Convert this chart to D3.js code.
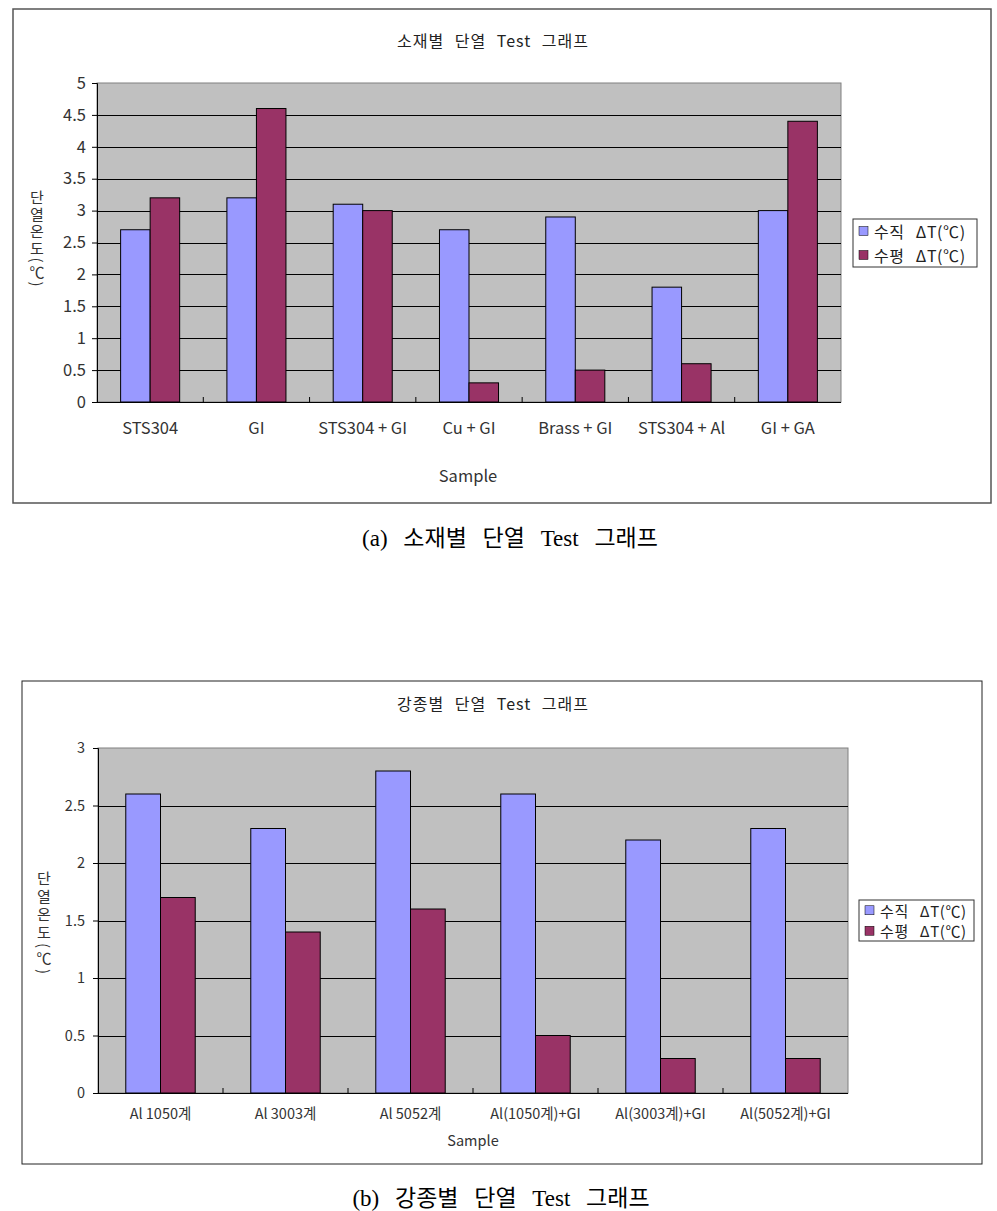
<!DOCTYPE html>
<html>
<head>
<meta charset="utf-8">
<script src="https://cdn.jsdelivr.net/npm/d3@7"></script>
<style>
  body { margin: 0; background: #fff; }
  svg text { font-family: "Noto Sans CJK KR", "DejaVu Sans", sans-serif; }
  .caption { font-family: "Liberation Serif", "Noto Sans CJK KR", serif !important; }
</style>
</head>
<body>
<svg id="page" width="997" height="1211"></svg>
<script>
// chart (a)
const samplesA = ["STS304", "GI", "STS304 + GI", "Cu + GI", "Brass + GI", "STS304 + Al", "GI + GA"];
const verticalA = [2.7, 3.2, 3.1, 2.7, 2.9, 1.8, 3.0];
const horizontalA = [3.2, 4.6, 3.0, 0.3, 0.5, 0.6, 4.4];
const yTicksA = [0, 0.5, 1, 1.5, 2, 2.5, 3, 3.5, 4, 4.5, 5];

// chart (b)
const samplesB = ["Al 1050계", "Al 3003계", "Al 5052계", "Al(1050계)+GI", "Al(3003계)+GI", "Al(5052계)+GI"];
const verticalB = [2.6, 2.3, 2.8, 2.6, 2.2, 2.3];
const horizontalB = [1.7, 1.4, 1.6, 0.5, 0.3, 0.3];
const yTicksB = [0, 0.5, 1, 1.5, 2, 2.5, 3];

const seriesNames = ["수직 ΔT(℃)", "수평 ΔT(℃)"];
const colors = ["#9999ff", "#993366"];

const svg = d3.select("#page");

function drawChart(cfg) {
    const g = svg.append("g");

    // outer frame
    g.append("rect")
        .attr("x", cfg.frame[0]).attr("y", cfg.frame[1])
        .attr("width", cfg.frame[2] - cfg.frame[0]).attr("height", cfg.frame[3] - cfg.frame[1])
        .attr("fill", "#fff").attr("stroke", cfg.frameColor).attr("stroke-width", cfg.frameWidth);

    const x0 = d3.scaleBand().domain(cfg.samples).range([cfg.left, cfg.right]).padding(0);
    const x1 = d3.scaleBand().domain([0, 1]).range([0, x0.bandwidth()]).paddingInner(0).paddingOuter(0.8);
    const y = d3.scaleLinear().domain([0, d3.max(cfg.yTicks)]).range([cfg.bottom, cfg.top]);

    // plot background
    g.append("rect")
        .attr("x", cfg.left).attr("y", cfg.top)
        .attr("width", cfg.right - cfg.left).attr("height", cfg.bottom - cfg.top)
        .attr("fill", "#c0c0c0").attr("stroke", "#808080");

    // gridlines
    g.selectAll(".grid").data(cfg.yTicks.slice(1, -1)).join("line")
        .attr("x1", cfg.left).attr("x2", cfg.right)
        .attr("y1", d => Math.round(y(d)) + 0.5).attr("y2", d => Math.round(y(d)) + 0.5)
        .attr("stroke", "#000");

    // bars
    const rows = cfg.samples.map((s, i) => ({ s, v: [cfg.vertical[i], cfg.horizontal[i]] }));
    const grp = g.selectAll(".grp").data(rows).join("g")
        .attr("transform", d => `translate(${x0(d.s)},0)`);
    grp.selectAll("rect").data(d => d.v.map((v, k) => ({ v, k }))).join("rect")
        .attr("x", d => x1(d.k))
        .attr("y", d => y(d.v))
        .attr("width", x1.bandwidth())
        .attr("height", d => y(0) - y(d.v))
        .attr("fill", d => colors[d.k])
        .attr("stroke", "#000").attr("stroke-width", 1);

    // y axis
    const yAxis = g.append("g").attr("transform", `translate(${cfg.left},0)`)
        .call(d3.axisLeft(y).tickValues(cfg.yTicks).tickSize(5).tickPadding(cfg.yPad).tickFormat(d => String(d)));
    yAxis.select(".domain").attr("stroke", "#000");
    yAxis.selectAll("text").attr("font-size", cfg.tickFont).attr("fill", "#333").attr("font-family", null);

    // x axis line and inner ticks at category boundaries
    g.append("line").attr("x1", cfg.left).attr("x2", cfg.right)
        .attr("y1", cfg.bottom + 0.5).attr("y2", cfg.bottom + 0.5).attr("stroke", "#000");
    g.selectAll(".xt").data(cfg.samples.slice(1)).join("line")
        .attr("x1", d => x0(d)).attr("x2", d => x0(d))
        .attr("y1", cfg.bottom).attr("y2", cfg.bottom - 5).attr("stroke", "#000");
    g.selectAll(".xl").data(cfg.samples).join("text")
        .attr("x", d => x0(d) + x0.bandwidth() / 2)
        .attr("y", cfg.xLabelY)
        .attr("text-anchor", "middle").attr("dominant-baseline", "central")
        .attr("font-size", cfg.xFont).attr("fill", "#333")
        .text(d => d);

    // axis titles
    g.append("text").attr("x", cfg.sampleX).attr("y", cfg.sampleY)
        .attr("text-anchor", "middle").attr("dominant-baseline", "central")
        .attr("font-size", cfg.xFont).attr("fill", "#333").text("Sample");
    g.append("text").attr("x", cfg.yLabelX).attr("y", cfg.yLabelY)
        .attr("text-anchor", "middle")
        .style("writing-mode", "vertical-rl")
        .attr("letter-spacing", cfg.yLabelSpacing)
        .attr("font-size", cfg.yLabelFont).attr("fill", "#333").text("단열온도(℃)");

    // chart title
    g.append("text").attr("x", cfg.titleX).attr("y", cfg.titleY)
        .attr("text-anchor", "middle").attr("dominant-baseline", "central")
        .attr("font-size", cfg.titleFont).attr("fill", "#222").attr("word-spacing", 6)
        .attr("letter-spacing", 1).text(cfg.title);

    // legend
    const lg = cfg.legend;
    g.append("rect").attr("x", lg[0]).attr("y", lg[1]).attr("width", lg[2] - lg[0]).attr("height", lg[3] - lg[1])
        .attr("fill", "#fff").attr("stroke", "#333");
    const rowH = (lg[3] - lg[1]) / 2;
    seriesNames.forEach((name, k) => {
        const cy = lg[1] + rowH * (k + 0.5);
        g.append("rect").attr("x", lg[0] + 6).attr("y", cy - 4.5).attr("width", 9).attr("height", 9)
            .attr("fill", colors[k]).attr("stroke", "#000").attr("stroke-width", 0.5);
        g.append("text").attr("x", lg[0] + 21).attr("y", cy)
            .attr("dominant-baseline", "central").attr("font-size", cfg.legendFont).attr("fill", "#222")
            .attr("word-spacing", 7).attr("letter-spacing", 0.6).text(name);
    });

    // caption under the chart
    g.append("text").attr("class", "caption").attr("x", cfg.captionX).attr("y", cfg.captionY)
        .attr("text-anchor", "middle").attr("dominant-baseline", "central")
        .attr("font-size", 23).attr("fill", "#000").attr("word-spacing", 10).text(cfg.caption);
}

drawChart({
    samples: samplesA, vertical: verticalA, horizontal: horizontalA, yTicks: yTicksA,
    frame: [13, 9, 991, 503], frameColor: "#555", frameWidth: 1.5,
    left: 97, right: 841, top: 83, bottom: 402,
    tickFont: 16.5, xFont: 16.5, legendFont: 16, titleFont: 16, yPad: 6,
    xLabelY: 427, sampleX: 468, sampleY: 475,
    yLabelX: 37, yLabelY: 239, yLabelSpacing: 2, yLabelFont: 15,
    title: "소재별 단열 Test 그래프", titleX: 493, titleY: 40,
    legend: [853, 219, 977, 267],
    caption: "(a) 소재별 단열 Test 그래프", captionX: 510, captionY: 538
});

drawChart({
    samples: samplesB, vertical: verticalB, horizontal: horizontalB, yTicks: yTicksB,
    frame: [22, 681, 982, 1164], frameColor: "#222", frameWidth: 1,
    left: 98, right: 848, top: 748, bottom: 1093,
    tickFont: 14.5, xFont: 14.5, legendFont: 15, titleFont: 16, yPad: 8,
    xLabelY: 1112, sampleX: 473, sampleY: 1139,
    yLabelX: 44, yLabelY: 924, yLabelSpacing: 3, yLabelFont: 15,
    title: "강종별 단열 Test 그래프", titleX: 493, titleY: 703,
    legend: [859, 900, 974, 941],
    caption: "(b) 강종별 단열 Test 그래프", captionX: 501, captionY: 1198
});
</script>
</body>
</html>
